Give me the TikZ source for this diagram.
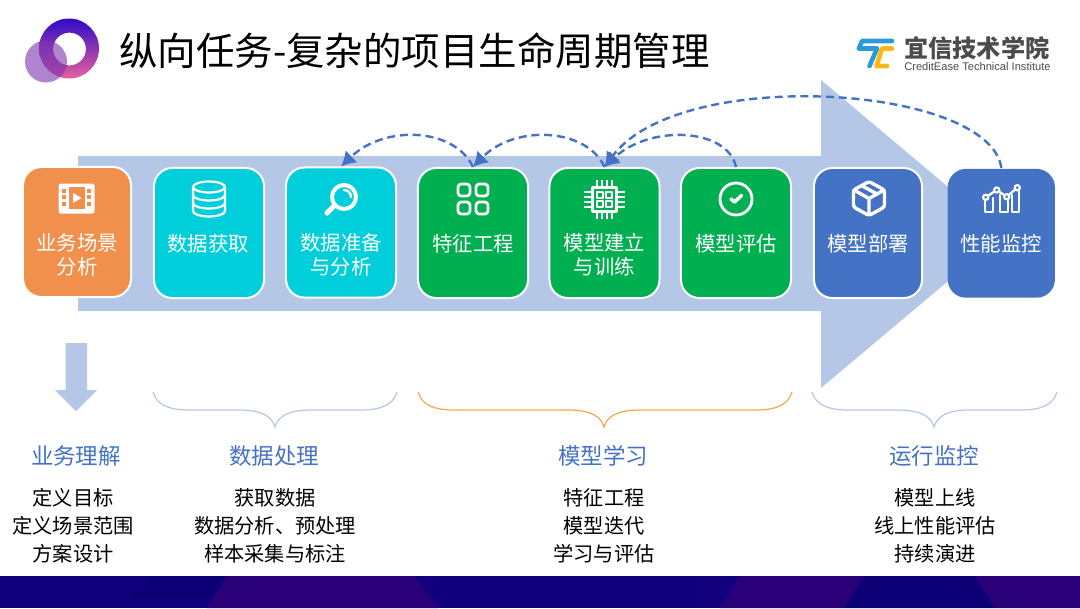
\documentclass[tikz,border=0pt]{standalone}
\usepackage{fontspec}
\usepackage{xcolor}
\setmainfont{Noto Sans CJK SC}
\newfontfamily\latinfont{Liberation Sans}
\usetikzlibrary{arrows.meta,positioning,calc}
\definecolor{flowblue}{HTML}{B4C7E7}
\definecolor{taskorange}{HTML}{F18F4C}
\definecolor{taskteal}{HTML}{00CFDB}
\definecolor{taskgreen}{HTML}{00B050}
\definecolor{taskblue}{HTML}{4472C4}
\definecolor{bracegold}{HTML}{F5A94A}
\definecolor{barblue}{HTML}{13007F}
\definecolor{barnavy}{HTML}{0D0076}
\definecolor{barpurple}{HTML}{2A0078}
\definecolor{ringtop}{HTML}{2E0BC4}
\definecolor{ringmid}{HTML}{A0309E}
\definecolor{ringlow}{HTML}{E8609E}
\definecolor{ringsmall}{HTML}{7B35B0}
\definecolor{logoblue}{HTML}{2A9BD8}
\definecolor{logoyellow}{HTML}{FDB813}
\begin{document}
\begin{tikzpicture}[
    x=0.025cm, y=-0.025cm,
    task/.style={rectangle, rounded corners=0.46cm, draw=white, line width=0.05cm, minimum width=2.75cm, minimum height=3.25cm, inner sep=0pt},
    tasklabel/.style={text=white, font=\fontsize{14.5}{17.2}\selectfont, align=center, inner sep=0pt},
    stagehead/.style={text=taskblue, font=\fontsize{16}{18}\selectfont, inner sep=0pt},
    stagelist/.style={text=black, font=\fontsize{14.4}{19.9}\selectfont, align=center, inner sep=0pt},
    dasharrow/.style={draw=taskblue, line width=0.06cm, dash pattern=on 0.2cm off 0.12cm, -{Latex[length=3.6mm,width=4.2mm]}},
    icon/.style={draw=white, line width=0.07cm, line join=round, line cap=round},
    brace/.style={line width=0.03cm},
    logostroke/.style={line width=0.115cm, line join=round, line cap=round}
]
\useasboundingbox (0,0) rectangle (1080,608);
\fill[white] (0,0) rectangle (1080,608);

% bottom bar
\fill[barblue] (0,576) rectangle (1080,608);
\fill[barnavy] (148,576) -- (227,576) -- (212,600) -- (127,600) -- cycle;
\fill[barpurple] (207,608) -- (227,576) -- (414,576) -- (438,608) -- cycle;
\fill[barpurple] (720,608) -- (740,576) -- (864,576) -- (844,608) -- cycle;
\fill[barnavy] (864,576) -- (975,576) -- (995,608) -- (844,608) -- cycle;
\fill[barpurple] (975,576) -- (1080,576) -- (1080,608) -- (995,608) -- cycle;

% logo
\path[even odd rule, top color=ringtop, middle color=ringmid, bottom color=ringlow]
    (69,48.5) circle (30) (69.5,49) circle (16.4);
\fill[ringsmall, opacity=0.6] (46,61.5) circle (21);
\node[inner sep=0pt, anchor=west, font=\fontsize{27.35}{30}\selectfont] (title) at (119,51) {纵向任务-复杂的项目生命周期管理};

\draw[logostroke, logoblue] (859,48.5) -- (862,41) -- (892,41);
\draw[logostroke, logoblue] (859,48.5) -- (877,48.5) -- (869.5,66);
\draw[logostroke, logoyellow] (892,48.5) -- (882,48.5) -- (876.5,66) -- (887,66);
\node[inner sep=0pt, anchor=west, text=black!70, font=\bfseries\fontsize{17.2}{20}\selectfont] (brand) at (904,48) {宜信技术学院};
\node[inner sep=0pt, anchor=west, text=black!70, font=\latinfont\fontsize{7.9}{9}\selectfont] (brandsub) at (904,67) {CreditEase Technical Institute};

% flow arrow
\fill[flowblue] (78,156) -- (821,156) -- (821,80) -- (1004,234) -- (821,388) -- (821,311) -- (78,311) -- cycle;
\fill[flowblue] (65.5,343) -- (87,343) -- (87,390) -- (97,390) -- (76,411) -- (55,390) -- (65.5,390) -- cycle;

% tasks
\node[task, fill=taskorange, minimum width=2.7cm] (scene) at (77,232) {};
\node[task, fill=taskteal]   (fetch)   at (209,233)   {};
\node[task, fill=taskteal]   (prep)    at (341,232.5) {};
\node[task, fill=taskgreen]  (feature) at (473,233)   {};
\node[task, fill=taskgreen]  (build)   at (604.5,233) {};
\node[task, fill=taskgreen]  (eval)    at (736,233)   {};
\node[task, fill=taskblue, minimum width=2.7cm] (deploy) at (868,233) {};
\node[task, fill=taskblue, draw=none, minimum width=2.68cm, minimum height=3.22cm] (watch) at (1001.3,233.3) {};

\node[tasklabel] (scenetxt)   at (77,255)    {业务场景\\分析};
\node[tasklabel] (fetchtxt)   at (208,244)   {数据获取};
\node[tasklabel] (preptxt)    at (341,255)   {数据准备\\与分析};
\node[tasklabel] (featuretxt) at (473,244)   {特征工程};
\node[tasklabel] (buildtxt)   at (604.5,255) {模型建立\\与训练};
\node[tasklabel] (evaltxt)    at (736,244)   {模型评估};
\node[tasklabel] (deploytxt)  at (868,244)   {模型部署};
\node[tasklabel] (watchtxt)   at (1001,244)  {性能监控};

% icons
\begin{scope}[shift={(76.5,198.5)}]
\fill[white, rounded corners=0.05cm] (-18,-15) rectangle (18,15);
\fill[taskorange] (-8,-11.5) rectangle (8,10.5);
\fill[white] (-3.5,-5.5) -- (5,-0.5) -- (-3.5,4.5) -- cycle;
\foreach \yy in {-10,-4,3} {
  \fill[taskorange] (-14.5,\yy) rectangle (-10.5,\yy+4);
  \fill[taskorange] (10.5,\yy) rectangle (14.5,\yy+4);
}
\end{scope}
\begin{scope}[shift={(209,199)}, icon/.append style={line width=0.055cm}]
\draw[icon] (-16,-12) arc[start angle=180, end angle=-180, x radius=16, y radius=5.5];
\draw[icon] (-16,-12) -- (-16,12) arc[start angle=180, end angle=0, x radius=16, y radius=5.5] -- (16,-12);
\draw[icon] (-16,-4) arc[start angle=180, end angle=0, x radius=16, y radius=5.5];
\draw[icon] (-16,4) arc[start angle=180, end angle=0, x radius=16, y radius=5.5];
\end{scope}
\begin{scope}[shift={(341,199)}]
\draw[icon, line width=0.13cm] (-14,14) -- (-7,7);
\draw[icon, line width=0.1cm] (3,-2) circle (12);
\draw[icon, line width=0.06cm] (3,-9) arc[start angle=270, end angle=360, radius=7];
\end{scope}
\begin{scope}[shift={(473,199)}]
\foreach \xx/\yy in {-9/-9,9/-9,-9/9,9/9}
  \draw[icon, rounded corners=0.08cm] (\xx-6,\yy-6) rectangle (\xx+6,\yy+6);
\end{scope}
\begin{scope}[shift={(604.5,199.5)}, icon/.append style={line cap=butt}]
\draw[icon, line width=0.08cm] (-12,-12) rectangle (12,12);
\foreach \xx/\yy in {-4.5/-4.5,4.5/-4.5,-4.5/4.5,4.5/4.5}
  \draw[icon, line width=0.05cm] (\xx-2.8,\yy-2.8) rectangle (\xx+2.8,\yy+2.8);
\foreach \pp in {-7.5,-2.5,2.5,7.5} {
  \draw[icon, line width=0.05cm] (\pp,-19.5) -- (\pp,-13) (\pp,13) -- (\pp,19.5);
  \draw[icon, line width=0.05cm] (-20.5,\pp) -- (-13,\pp) (13,\pp) -- (20.5,\pp);
}
\end{scope}
\begin{scope}[shift={(736,199)}]
\draw[icon] (0,0) circle (16);
\draw[icon, line width=0.09cm] (-5,0) -- (-1.5,3) -- (5.5,-3.5);
\end{scope}
\begin{scope}[shift={(869,198.5)}, icon/.append style={line width=0.085cm}]
\draw[icon, rounded corners=0.06cm] (0,-17) -- (15.5,-8.5) -- (15.5,8.5) -- (0,17) -- (-15.5,8.5) -- (-15.5,-8.5) -- cycle;
\draw[icon] (-15,-8.5) -- (0,0) -- (15,-8.5) (0,0) -- (0,16);
\draw[icon] (-7.5,-13) -- (8,-4.5);
\end{scope}
\begin{scope}[shift={(1001,199)}, icon/.append style={line width=0.055cm}]
\draw[icon] (-16,2) -- (-16,13) -- (-8,13) -- (-8,-1);
\draw[icon] (-1,-4) -- (-1,13) -- (7,13) -- (7,2);
\draw[icon] (11,-4) -- (11,13) -- (18,13) -- (18,-8);
\draw[icon] (-15.3,-1.7) -- (-4.3,-9) -- (5.7,-2.3) -- (16.3,-11.3);
\foreach \xx/\yy in {-15.3/-1.7,-4.3/-9,5.7/-2.3,16.3/-11.3}
  \filldraw[icon, fill=taskblue] (\xx,\yy) circle (2.6);
\end{scope}

% rework loops
\draw[dasharrow] (feature.north) .. controls (455,128) and (385,124) .. (prep.north);
\draw[dasharrow] (build.north) .. controls (587,128) and (515,124) .. (feature.north);
\draw[dasharrow] (eval.north) .. controls (728,128) and (650,124) .. (build.north);
\draw[dasharrow] (watch.north) .. controls (990,85) and (680,65) .. (build.north);

% braces
\coordinate (b1a) at (153,392); \coordinate (b1m) at (275,427); \coordinate (b1b) at (397,392);
\coordinate (b2a) at (418,392); \coordinate (b2m) at (604,427); \coordinate (b2b) at (792,392);
\coordinate (b3a) at (812,392); \coordinate (b3m) at (934,427); \coordinate (b3b) at (1057,392);
\foreach \aa/\mm/\bb/\cc in {b1a/b1m/b1b/flowblue, b2a/b2m/b2b/bracegold, b3a/b3m/b3b/flowblue} {
  \draw[brace, draw=\cc] (\aa) .. controls ($(\aa)+(4,14)$) and ($(\aa)+(18,18)$) .. ($(\aa)+(36,18)$)
     -- ($(\mm)+(-36,-17)$) .. controls ($(\mm)+(-14,-17)$) and ($(\mm)+(-3,-11)$) .. (\mm)
     .. controls ($(\mm)+(3,-11)$) and ($(\mm)+(14,-17)$) .. ($(\mm)+(36,-17)$)
     -- ($(\bb)+(-36,18)$) .. controls ($(\bb)+(-18,18)$) and ($(\bb)+(-4,14)$) .. (\bb);
}

% stages
\node[stagehead] (stage1) at (76,456)  {业务理解};
\node[stagehead] (stage2) at (274,456) {数据处理};
\node[stagehead] (stage3) at (603,456) {模型学习};
\node[stagehead] (stage4) at (934,456) {运行监控};
\node[stagelist] (list1) at (73,526)  {定义目标\\定义场景范围\\方案设计};
\node[stagelist] (list2) at (275,526) {获取数据\\数据分析、预处理\\样本采集与标注};
\node[stagelist] (list3) at (604,526) {特征工程\\模型迭代\\学习与评估};
\node[stagelist] (list4) at (935,526) {模型上线\\线上性能评估\\持续演进};
\end{tikzpicture}
\end{document}
